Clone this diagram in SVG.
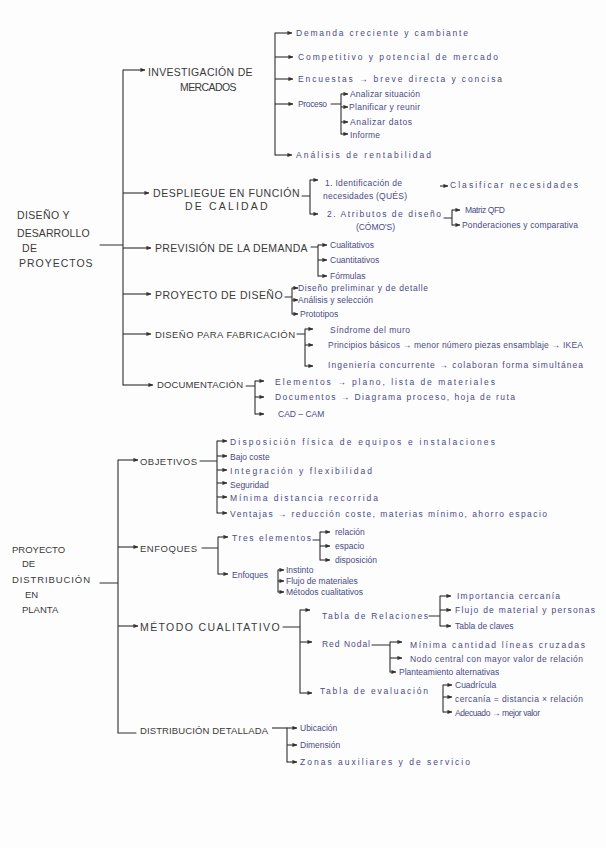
<svg xmlns="http://www.w3.org/2000/svg" width="606" height="848" viewBox="0 0 606 848">
<defs>
<marker id="a" viewBox="0 0 6 6" refX="5.5" refY="3" markerWidth="5" markerHeight="5" orient="auto" markerUnits="userSpaceOnUse"><path d="M0,0.5 L6,3 L0,5.5 z" fill="#333"/></marker>
<style>
.bg{fill:#fdfdfd}
.ln{fill:none;stroke:#2f2f2f;stroke-width:1.1;stroke-linecap:round}
.ar{fill:none;stroke:#2f2f2f;stroke-width:1.1;marker-end:url(#a)}
.cap{font-family:"Liberation Sans",Arial,sans-serif;font-size:10.5px;fill:#3a3a3a;letter-spacing:0.4px}
.cs{font-family:"Liberation Sans",Arial,sans-serif;font-size:9.5px;fill:#3a3a3a}
.sm{font-family:"Liberation Sans",Arial,sans-serif;font-size:8.5px;fill:#4a4a86}
</style>
</defs>
<rect class="bg" x="0" y="0" width="606" height="848"/>

<g id="connectors">
<path class="ln" d="M100,245 H123 M123,70 V385"/>
<path class="ar" d="M123,70 H145"/>
<path class="ar" d="M123,193 H149"/>
<path class="ar" d="M123,248 H151"/>
<path class="ar" d="M123,294 H151"/>
<path class="ar" d="M123,334 H151"/>
<path class="ar" d="M123,385 H153"/>
<path class="ln" d="M275,33 V155"/>
<path class="ar" d="M275,33 H292"/><path class="ar" d="M275,57 H293"/><path class="ar" d="M275,79 H293"/><path class="ar" d="M275,104 H293"/><path class="ar" d="M275,155 H292"/>
<path class="ln" d="M331,104 H341 M341,94 V134"/>
<path class="ar" d="M341,94 H348"/><path class="ar" d="M341,107 H348"/><path class="ar" d="M341,122 H348"/><path class="ar" d="M341,134 H348"/>
<path class="ln" d="M302,196 H310 M310,180 V214"/>
<path class="ar" d="M310,180 H318"/><path class="ar" d="M310,214 H318"/>
<path class="ar" d="M440,186 H448"/>
<path class="ln" d="M444,218 H452 M452,210 V225"/>
<path class="ar" d="M452,210 H460"/><path class="ar" d="M452,225 H460"/>
<path class="ln" d="M311,247 H318 M318,245 V276"/>
<path class="ar" d="M318,245 H327"/><path class="ar" d="M318,260 H327"/><path class="ar" d="M318,276 H327"/>
<path class="ln" d="M285,297 H292 M292,288 V314"/>
<path class="ar" d="M292,288 H298"/><path class="ar" d="M292,300 H298"/><path class="ar" d="M292,314 H298"/>
<path class="ln" d="M297,334 H305 M305,329 V366"/>
<path class="ar" d="M305,329 H313"/><path class="ar" d="M305,345 H313"/><path class="ar" d="M305,366 H313"/>
<path class="ln" d="M246,386 H255 M255,381 V414"/>
<path class="ar" d="M255,381 H264"/><path class="ar" d="M255,397 H264"/><path class="ar" d="M255,414 H264"/>

<path class="ln" d="M100,583 H118 M118,460 V733 H136"/>
<path class="ar" d="M118,460 H138"/>
<path class="ar" d="M118,547 H138"/>
<path class="ar" d="M118,626 H138"/>
<path class="ln" d="M200,461 H217 M217,441 V513"/>
<path class="ar" d="M217,441 H227"/><path class="ar" d="M217,456 H227"/><path class="ar" d="M217,470 H227"/><path class="ar" d="M217,483 H227"/><path class="ar" d="M217,497 H227"/><path class="ar" d="M217,513 H227"/>
<path class="ln" d="M202,548 H218 M218,537 V574"/>
<path class="ar" d="M218,537 H228"/><path class="ar" d="M218,574 H228"/>
<path class="ln" d="M313,540 H320 M320,532 V560"/>
<path class="ar" d="M320,532 H330"/><path class="ar" d="M320,546 H330"/><path class="ar" d="M320,560 H330"/>
<path class="ln" d="M278,570 V592"/>
<path class="ar" d="M278,570 H284"/><path class="ar" d="M278,581 H284"/><path class="ar" d="M278,592 H284"/>
<path class="ln" d="M283,627 H300 M300,610 V693"/>
<path class="ar" d="M300,610 H310"/><path class="ar" d="M300,642 H312"/><path class="ar" d="M300,693 H312"/>
<path class="ln" d="M429,616 H440 M440,596 V626"/>
<path class="ar" d="M440,596 H451"/><path class="ar" d="M440,610 H451"/><path class="ar" d="M440,626 H451"/>
<path class="ln" d="M372,645 H390 M390,642 V672"/>
<path class="ar" d="M390,642 H402"/><path class="ar" d="M390,658 H402"/><path class="ar" d="M390,672 H396"/>
<path class="ln" d="M443,685 V712"/>
<path class="ar" d="M443,685 H452"/><path class="ar" d="M443,697 H452"/><path class="ar" d="M443,712 H452"/>
<path class="ar" d="M272,728 H297"/>
<path class="ln" d="M287,728 V762"/>
<path class="ar" d="M287,745 H297"/><path class="ar" d="M287,762 H297"/>
</g>

<g id="root1"><text class="cap" x="17" y="219" textLength="53">DISEÑO Y</text><text class="cap" x="17" y="237" textLength="73">DESARROLLO</text><text class="cap" x="22" y="252">DE</text><text class="cap" x="19" y="267" textLength="74">PROYECTOS</text></g>

<g id="investigacion"><text class="cap" x="148" y="76" textLength="105">INVESTIGACIÓN DE</text><text class="cap" x="180" y="91" textLength="57">MERCADOS</text></g>
<g id="inv-items">
<text class="sm" x="296" y="36" textLength="172">Demanda creciente y cambiante</text>
<text class="sm" x="298" y="60" textLength="200">Competitivo y potencial de mercado</text>
<text class="sm" x="298" y="82" textLength="204">Encuestas → breve directa y concisa</text>
<text class="sm" x="298" y="107" textLength="29">Proceso</text>
<text class="sm" x="350" y="97" textLength="70">Analizar situación</text>
<text class="sm" x="349" y="110" textLength="71">Planificar y reunir</text>
<text class="sm" x="350" y="125" textLength="62">Analizar datos</text>
<text class="sm" x="350" y="138" textLength="30">Informe</text>
<text class="sm" x="296" y="158" textLength="135">Análisis de rentabilidad</text>
</g>

<g id="despliegue"><text class="cap" x="153" y="197" textLength="147">DESPLIEGUE EN FUNCIÓN</text><text class="cap" x="185" y="210" textLength="83">DE CALIDAD</text></g>
<g id="desp-items">
<text class="sm" x="325" y="186" textLength="77">1. Identificación de</text>
<text class="sm" x="323" y="199" textLength="84">necesidades (QUÉS)</text>
<text class="sm" x="450" y="188" textLength="128">Clasificar necesidades</text>
<text class="sm" x="327" y="217" textLength="114">2. Atributos de diseño</text>
<text class="sm" x="356" y="230" textLength="39">(CÓMO'S)</text>
<text class="sm" x="465" y="213" textLength="40">Matriz QFD</text>
<text class="sm" x="462" y="228" textLength="116">Ponderaciones y comparativa</text>
</g>

<g id="prevision"><text class="cap" x="155" y="252" textLength="153">PREVISIÓN DE LA DEMANDA</text>
<text class="sm" x="330" y="248">Cualitativos</text>
<text class="sm" x="330" y="263">Cuantitativos</text>
<text class="sm" x="330" y="279">Fórmulas</text></g>

<g id="proyecto-diseno"><text class="cap" x="155" y="299" textLength="128">PROYECTO DE DISEÑO</text>
<text class="sm" x="298" y="291" textLength="130">Diseño preliminar y de detalle</text>
<text class="sm" x="298" y="303" textLength="75">Análisis y selección</text>
<text class="sm" x="300" y="317">Prototipos</text></g>

<g id="fabricacion"><text class="cs" x="155" y="338" textLength="140">DISEÑO PARA FABRICACIÓN</text>
<text class="sm" x="330" y="333" textLength="80">Síndrome del muro</text>
<text class="sm" x="328" y="348" textLength="255">Principios básicos → menor número piezas ensamblaje → IKEA</text>
<text class="sm" x="328" y="368" textLength="255">Ingeniería concurrente → colaboran forma simultánea</text></g>

<g id="documentacion"><text class="cs" x="157" y="388" textLength="86">DOCUMENTACIÓN</text>
<text class="sm" x="275" y="385" textLength="220">Elementos → plano, lista de materiales</text>
<text class="sm" x="275" y="400" textLength="240">Documentos → Diagrama proceso, hoja de ruta</text>
<text class="sm" x="278" y="417">CAD – CAM</text></g>

<g id="root2"><text class="cs" x="12" y="553">PROYECTO</text><text class="cs" x="22" y="567">DE</text><text class="cs" x="12" y="583" textLength="78">DISTRIBUCIÓN</text><text class="cs" x="25" y="598">EN</text><text class="cs" x="22" y="613">PLANTA</text></g>

<g id="objetivos"><text class="cs" x="140" y="465" textLength="57">OBJETIVOS</text>
<text class="sm" x="230" y="445" textLength="265">Disposición física de equipos e instalaciones</text>
<text class="sm" x="230" y="460">Bajo coste</text>
<text class="sm" x="230" y="474" textLength="142">Integración y flexibilidad</text>
<text class="sm" x="230" y="488">Seguridad</text>
<text class="sm" x="230" y="501" textLength="148">Mínima distancia recorrida</text>
<text class="sm" x="230" y="517" textLength="317">Ventajas → reducción coste, materias mínimo, ahorro espacio</text></g>

<g id="enfoques"><text class="cs" x="140" y="552" textLength="57">ENFOQUES</text>
<text class="sm" x="232" y="541" textLength="79">Tres elementos</text>
<text class="sm" x="335" y="535">relación</text>
<text class="sm" x="335" y="549">espacio</text>
<text class="sm" x="335" y="563">disposición</text>
<text class="sm" x="232" y="578">Enfoques</text>
<text class="sm" x="286" y="573">Instinto</text>
<text class="sm" x="286" y="584">Flujo de materiales</text>
<text class="sm" x="286" y="595">Métodos cualitativos</text></g>

<g id="metodo"><text class="cap" x="140" y="631" textLength="140">MÉTODO CUALITATIVO</text>
<text class="sm" x="322" y="619" textLength="106">Tabla de Relaciones</text>
<text class="sm" x="457" y="599" textLength="103">Importancia cercanía</text>
<text class="sm" x="455" y="613" textLength="140">Flujo de material y personas</text>
<text class="sm" x="455" y="629">Tabla de claves</text>
<text class="sm" x="322" y="647" textLength="48">Red Nodal</text>
<text class="sm" x="410" y="648" textLength="175">Mínima cantidad líneas cruzadas</text>
<text class="sm" x="410" y="662" textLength="173">Nodo central con mayor valor de relación</text>
<text class="sm" x="399" y="675">Planteamiento alternativas</text>
<text class="sm" x="320" y="694" textLength="108">Tabla de evaluación</text>
<text class="sm" x="455" y="688">Cuadrícula</text>
<text class="sm" x="455" y="702" textLength="128">cercanía = distancia × relación</text>
<text class="sm" x="455" y="716" textLength="85">Adecuado → mejor valor</text></g>

<g id="distribucion-detallada"><text class="cs" x="140" y="734" textLength="128">DISTRIBUCIÓN DETALLADA</text>
<text class="sm" x="300" y="731">Ubicación</text>
<text class="sm" x="300" y="748">Dimensión</text>
<text class="sm" x="300" y="765" textLength="170">Zonas auxiliares y de servicio</text></g>
</svg>
